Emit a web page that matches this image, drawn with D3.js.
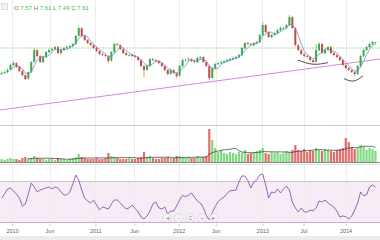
<!DOCTYPE html>
<html><head><meta charset="utf-8">
<script src="https://cdn.jsdelivr.net/npm/d3@7"></script>
<style>html,body{margin:0;padding:0;background:#fff;overflow:hidden}svg{display:block;font-family:"Liberation Sans",Arial,sans-serif}</style>
</head><body><svg id="c" width="380" height="240"></svg>
<script>
const startDate = "2009-11-16";
const stepDays = 13;
const closes = [6.06,6.11,6.21,6.46,6.56,6.36,6.16,5.96,5.76,6.11,6.61,7.21,
6.91,6.61,6.86,7.11,7.21,7.26,7.36,7.06,7.21,7.31,7.36,7.41,
7.51,7.91,8.31,7.91,7.71,7.56,7.46,7.31,7.16,7.01,6.96,6.91,
6.66,7.11,7.51,7.46,7.26,7.06,6.96,6.96,6.91,6.86,6.71,6.41,
6.21,6.41,6.76,6.71,6.66,6.56,6.41,6.21,6.01,6.21,6.06,5.91,
6.41,6.71,6.71,6.76,6.66,6.61,6.81,6.86,6.61,6.41,5.81,6.31,
6.51,6.56,6.61,6.66,6.71,6.76,6.81,6.86,6.96,7.31,7.56,7.51,
7.46,7.56,7.61,7.96,8.46,8.11,7.86,7.96,8.06,8.21,8.31,8.31,
8.46,8.86,8.31,7.46,7.21,7.01,6.91,6.86,6.71,6.61,7.21,7.51,
7.06,7.21,7.36,7.06,6.96,6.86,6.71,6.46,6.31,6.21,6.11,6.01,
6.41,6.91,7.21,7.36,7.51,7.61,7.61];
const opens = [6.00,6.06,6.10,6.22,6.45,6.55,6.36,6.15,5.95,5.78,6.10,6.62,
7.20,6.90,6.60,6.85,7.10,7.20,7.25,7.35,7.05,7.20,7.30,7.35,
7.40,7.50,7.92,8.30,7.90,7.70,7.55,7.45,7.30,7.15,7.00,6.95,
6.90,6.68,7.10,7.50,7.45,7.25,7.05,6.95,6.97,6.90,6.85,6.70,
6.40,6.22,6.40,6.75,6.70,6.65,6.55,6.40,6.20,6.02,6.20,6.05,
5.92,6.40,6.70,6.72,6.75,6.65,6.60,6.80,6.85,6.60,6.40,5.82,
6.30,6.50,6.55,6.60,6.65,6.70,6.75,6.80,6.85,6.95,7.30,7.55,
7.50,7.45,7.55,7.60,7.95,8.45,8.10,7.85,7.95,8.05,8.20,8.30,
8.30,8.45,8.85,8.30,7.45,7.20,7.00,6.90,6.85,6.70,6.62,7.20,
7.50,7.05,7.20,7.35,7.05,6.95,6.85,6.70,6.45,6.30,6.20,6.10,
6.02,6.40,6.90,7.20,7.35,7.50,7.57];
const highs = [6.15,6.20,6.30,6.52,6.66,6.60,6.42,6.20,6.00,6.15,6.66,7.30,
7.25,6.95,6.92,7.18,7.28,7.32,7.42,7.40,7.28,7.36,7.44,7.48,
7.58,7.98,8.42,8.35,7.96,7.75,7.62,7.50,7.36,7.20,7.08,7.02,
6.95,7.16,7.58,7.56,7.50,7.30,7.10,7.02,7.02,6.96,6.90,6.75,
6.45,6.48,6.82,6.82,6.76,6.70,6.60,6.45,6.25,6.28,6.25,6.10,
6.46,6.80,6.80,6.85,6.80,6.72,6.88,6.92,6.90,6.65,6.45,6.36,
6.58,6.62,6.68,6.72,6.78,6.82,6.88,6.92,7.02,7.38,7.62,7.62,
7.56,7.62,7.68,8.02,8.62,8.50,8.15,8.02,8.12,8.28,8.38,8.38,
8.52,8.96,8.90,8.35,7.50,7.25,7.06,6.96,6.90,6.75,7.51,7.61,
7.55,7.28,7.42,7.40,7.10,7.00,6.90,6.75,6.50,6.35,6.25,6.15,
6.46,6.96,7.28,7.42,7.58,7.66,7.61];
const lows = [5.95,6.00,6.05,6.18,6.40,6.30,6.10,5.90,5.70,5.72,6.05,6.58,
6.85,6.55,6.56,6.80,7.05,7.12,7.20,7.00,7.00,7.15,7.25,7.30,
7.36,7.46,7.88,7.85,7.65,7.50,7.40,7.25,7.10,6.95,6.90,6.85,
6.55,6.62,7.05,7.40,7.20,7.00,6.90,6.88,6.85,6.80,6.65,6.35,
5.85,6.15,6.35,6.65,6.60,6.50,6.35,6.15,5.95,5.96,6.00,5.80,
5.88,6.35,6.62,6.66,6.60,6.55,6.56,6.75,6.55,6.35,5.70,5.76,
6.25,6.45,6.50,6.55,6.60,6.65,6.70,6.75,6.80,6.90,7.25,7.45,
7.40,7.40,7.50,7.55,7.90,8.05,7.80,7.80,7.90,8.00,8.15,8.22,
8.25,8.40,8.25,7.40,7.15,6.95,6.85,6.80,6.65,6.55,6.58,7.15,
7.00,7.00,7.15,7.00,6.90,6.80,6.65,6.40,6.25,6.15,6.05,5.90,
5.96,6.35,6.85,7.15,7.30,7.45,7.49];
const volumes = [3,2,3,4,3,3,2,4,5,4,4,6,
4,3,3,2,3,3,2,4,3,3,2,3,
4,5,8,5,4,3,3,3,4,3,3,4,
9,6,5,4,3,3,3,4,3,3,4,5,
10,5,6,4,3,3,4,4,5,4,4,6,
6,5,4,5,4,4,6,5,5,6,33,22,
14,10,12,9,8,10,9,8,10,9,12,8,
9,10,11,12,14,9,8,10,9,10,8,9,
11,10,12,17,12,11,13,10,12,11,14,12,
11,13,12,11,10,12,13,14,24,20,15,13,
14,17,15,12,14,13,11];
const rsiValues = [53.4,57.3,62.2,63.2,60.3,57.3,53.4,45.6,47.6,57.3,68.1,64.2,
59.3,61.2,62.2,63.2,64.2,62.2,64.2,63.2,59.3,56.4,56.4,59.3,
67.1,75.9,71.0,61.2,53.4,50.5,48.5,51.5,46.6,41.7,44.6,43.7,
42.7,47.6,51.5,51.5,48.5,45.6,42.7,43.7,46.6,43.2,39.8,34.9,
32.9,35.9,40.7,47.6,49.5,43.7,42.7,44.6,37.8,40.7,40.7,45.6,
51.5,56.0,54.8,56.0,58.3,54.4,50.5,48.5,44.1,36.4,32.0,39.0,
45.2,49.9,52.6,54.4,57.9,60.4,60.8,61.2,69.0,74.9,74.9,70.5,
63.2,69.0,71.0,75.9,76.8,66.1,53.4,59.3,58.3,62.2,58.3,62.2,
65.1,61.2,49.5,43.7,39.8,43.7,39.8,39.8,41.7,40.7,43.7,50.5,
49.5,51.5,48.5,46.6,44.6,40.7,34.9,35.9,35.2,32.9,35.9,41.7,
48.5,59.3,55.8,56.4,64.2,66.1,64.2];
const tickDates = ["2010-01-01","2010-06-14","2011-01-01","2011-06-20","2012-01-01","2012-06-11","2013-01-01","2013-07-01","2014-01-01"];
const tickLabels = ["2010","Jun","2011","Jun","2012","Jun","2013","Jul","2014"];
const supportLevel = 7.31;
const trendLine = [["2009-11-09",4.21],["2014-06-01",6.76]];
const arcs = [
  [["2013-06-06",6.71],["2013-08-11",6.50],["2013-10-16",6.58]],
  [["2013-12-25",5.78],["2014-02-05",5.66],["2014-03-18",5.91]]
];
const legendLabels = ["O","H","L","C"];
const legendValues = [7.57,7.61,7.49,7.61];
const rsiBand = [30,70];
const maPeriod = 4, volMaPeriod = 10;

const W = 380;
const parse = d3.utcParse("%Y-%m-%d");
const dates = closes.map((_, i) => d3.utcDay.offset(parse(startDate), i * stepDays));
const svg = d3.select("#c");

const x = d3.scaleUtc().domain([parse("2009-11-09"), parse("2014-06-01")]).range([0, W]);
const y = d3.scaleLinear().domain([3.46, 9.71]).range([125, 0]);
const yv = d3.scaleLinear().domain([0, 36]).range([162, 126]);
const yr = d3.scaleLinear().domain(rsiBand).range([222, 181]);

// bottom strip
svg.append("rect").attr("x", 0).attr("y", 236).attr("width", W).attr("height", 4).attr("fill", "#ececec");

// RSI band
svg.append("rect").attr("x", 0).attr("y", yr(rsiBand[1])).attr("width", W)
  .attr("height", yr(rsiBand[0]) - yr(rsiBand[1])).attr("fill", "#f6ecf6");

// gridlines
svg.append("g").selectAll("line").data(tickDates.map(parse)).join("line")
  .attr("x1", d => Math.round(x(d)) + 0.5).attr("x2", d => Math.round(x(d)) + 0.5)
  .attr("y1", 0).attr("y2", 224).attr("stroke", "#ececec").attr("stroke-width", 1);

svg.append("line").attr("x1", 0).attr("x2", W).attr("y1", yr(rsiBand[1]) + 0.5).attr("y2", yr(rsiBand[1]) + 0.5)
  .attr("stroke", "#cfc4cf");
svg.append("line").attr("x1", 0).attr("x2", W).attr("y1", yr(rsiBand[0]) + 0.5).attr("y2", yr(rsiBand[0]) + 0.5)
  .attr("stroke", "#cfa8cf");

// panel borders
svg.append("line").attr("x1", 0).attr("x2", W).attr("y1", 125.5).attr("y2", 125.5).attr("stroke", "#c8c8c8");
svg.append("line").attr("x1", 0).attr("x2", W).attr("y1", 162.5).attr("y2", 162.5).attr("stroke", "#8a8a8a");
svg.append("line").attr("x1", 0).attr("x2", W).attr("y1", 164.5).attr("y2", 164.5).attr("stroke", "#e0e0e0");

// main panel
const main = svg.append("g");
main.append("line")
  .attr("x1", 0).attr("x2", W).attr("y1", y(supportLevel)).attr("y2", y(supportLevel))
  .attr("stroke", "#8fdc8f").attr("stroke-width", 0.9).attr("stroke-dasharray", "2,1");
main.append("line")
  .attr("x1", x(parse(trendLine[0][0]))).attr("y1", y(trendLine[0][1]))
  .attr("x2", x(parse(trendLine[1][0]))).attr("y2", y(trendLine[1][1]))
  .attr("stroke", "#dc82e0").attr("stroke-width", 1);

const bull = "#3fa94a", bear = "#c4493f";
const candles = main.append("g").selectAll("g").data(closes.map((c, i) => ({d: dates[i], o: opens[i], h: highs[i], l: lows[i], c})))
  .join("g");
candles.append("line")
  .attr("x1", d => x(d.d)).attr("x2", d => x(d.d))
  .attr("y1", d => y(d.h)).attr("y2", d => y(d.l))
  .attr("stroke", d => d.c >= d.o ? bull : bear).attr("stroke-width", 0.6);
candles.append("rect")
  .attr("x", d => x(d.d) - 1).attr("width", 2)
  .attr("y", d => y(Math.max(d.o, d.c)))
  .attr("height", d => Math.max(0.7, Math.abs(y(d.o) - y(d.c))))
  .attr("fill", d => d.c >= d.o ? bull : bear);

const ma = closes.map((c, i) => i < maPeriod - 1 ? null : d3.mean(closes.slice(i - maPeriod + 1, i + 1)));
main.append("path")
  .datum(ma.map((v, i) => [dates[i], v]).filter(p => p[1] != null))
  .attr("d", d3.line().x(p => x(p[0])).y(p => y(p[1])))
  .attr("fill", "none").attr("stroke", "#6f8fd6").attr("stroke-width", 0.8);

const arcLine = d3.line().x(p => x(parse(p[0]))).y(p => y(p[1])).curve(d3.curveNatural);
main.append("g").selectAll("path").data(arcs).join("path")
  .attr("d", arcLine).attr("fill", "none").attr("stroke", "#222").attr("stroke-width", 0.8);

// legend
svg.append("rect").attr("x", 1.5).attr("y", 3.5).attr("width", 6).attr("height", 6)
  .attr("fill", "#f2f2f2").attr("stroke", "#d8d8d8").attr("stroke-width", 0.8);
const lt = svg.append("text").attr("x", 14).attr("y", 10).attr("font-size", 6);
legendLabels.forEach((lab, i) => {
  lt.append("tspan").attr("fill", "#777").text((i ? " " : "") + lab + " ");
  lt.append("tspan").attr("fill", "#4cbb4c").text(legendValues[i].toFixed(2));
});

// volume
const vb = svg.append("g");
vb.selectAll("rect").data(volumes.map((v, i) => ({d: dates[i], v, up: closes[i] >= opens[i]}))).join("rect")
  .attr("x", d => x(d.d) - 1.1).attr("width", 2.2)
  .attr("y", d => yv(d.v)).attr("height", d => yv(0) - yv(d.v))
  .attr("fill", d => d.up ? "#7fd97f" : "#e36d6d");
const vma = volumes.map((v, i) => i < volMaPeriod - 1 ? null : d3.mean(volumes.slice(i - volMaPeriod + 1, i + 1)));
vb.append("path")
  .datum(vma.map((v, i) => [dates[i], v]).filter(p => p[1] != null))
  .attr("d", d3.line().x(p => x(p[0])).y(p => yv(p[1])))
  .attr("fill", "none").attr("stroke", "#333").attr("stroke-width", 0.7);

// RSI
svg.append("path")
  .datum(rsiValues.map((v, i) => [dates[i], v]))
  .attr("d", d3.line().x(p => x(p[0])).y(p => yr(p[1])))
  .attr("fill", "none").attr("stroke", "#8b55a8").attr("stroke-width", 0.9);

// navigator buttons
const btns = ["\u25C2", "\u2212", "C", "+", "\u25B8"];
const bg = svg.append("g").selectAll("g").data(btns).join("g")
  .attr("transform", (d, i) => `translate(${167 + i * 11.7},218)`);
bg.append("circle").attr("r", 4.3).attr("fill", "#f4f4f4").attr("fill-opacity", 0.85).attr("stroke", "#d0d0d0").attr("stroke-width", 0.6);
bg.append("text").attr("text-anchor", "middle").attr("dy", "0.35em").attr("font-size", 5.5).attr("fill", "#999").text(d => d);

// x axis
const ax = svg.append("g").attr("transform", "translate(0,224)")
  .call(d3.axisBottom(x).tickValues(tickDates.map(parse)).tickFormat((d, i) => tickLabels[i]).tickSize(2).tickPadding(3));
ax.select(".domain").remove();
ax.selectAll("line").attr("stroke", "#ccc");
ax.selectAll("text").attr("font-size", 5.5).attr("fill", "#666").attr("font-family", "Liberation Sans, Arial, sans-serif");
</script></body></html>
